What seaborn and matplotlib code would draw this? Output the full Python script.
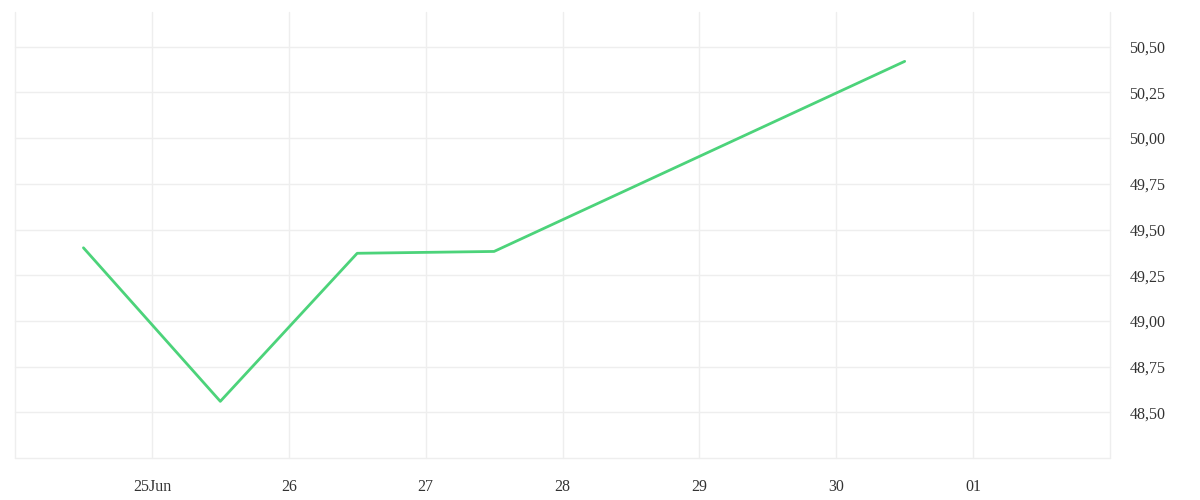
import matplotlib
matplotlib.use("Agg")
import matplotlib.pyplot as plt
import matplotlib.ticker as mticker
import seaborn as sns
import pandas as pd

dates = ["2020-06-24 12:00", "2020-06-25 12:00", "2020-06-26 12:00",
         "2020-06-27 12:00", "2020-06-30 12:00"]
values = [49.40, 48.56, 49.37, 49.38, 50.42]
tick_dates = ["2020-06-24", "2020-06-25", "2020-06-26", "2020-06-27", "2020-06-28",
              "2020-06-29", "2020-06-30", "2020-07-01", "2020-07-02"]
tick_labels = ["", "25Jun", "26", "27", "28", "29", "30", "01", ""]
y_ticks = [48.25, 48.50, 48.75, 49.00, 49.25, 49.50, 49.75, 50.00, 50.25, 50.50]

df = pd.DataFrame({"date": pd.to_datetime(dates), "value": values})

sns.set_style("white")
plt.rcParams["font.family"] = ["Liberation Serif", "DejaVu Serif"]

fig = plt.figure(figsize=(12, 5), dpi=100)
ax = fig.add_axes([15/1200, 1 - 458/500, (1110 - 15)/1200, (458 - 12)/500])

sns.lineplot(data=df, x="date", y="value", ax=ax, color="#4cd37a", linewidth=2)

grid_c = "#eeeeee"
ax.set_xlim(pd.Timestamp(tick_dates[0]), pd.Timestamp(tick_dates[-1]))
ax.set_ylim(48.25, 50.69)
ax.set_xticks(pd.to_datetime(tick_dates))
ax.set_xticklabels(tick_labels)
ax.set_yticks(y_ticks)
ax.yaxis.set_major_formatter(mticker.FuncFormatter(
    lambda v, p: "" if abs(v - 48.25) < 1e-6 else f"{v:.2f}".replace(".", ",")))
ax.yaxis.tick_right()
ax.grid(True, color=grid_c, linewidth=1)
for ln in ax.get_xgridlines() + ax.get_ygridlines():
    ln.set_clip_on(False)
for s in ax.spines.values():
    s.set_visible(False)
ax.tick_params(axis="x", length=7, color=grid_c, width=1, labelsize=11.5,
               labelcolor="#333333", pad=8)
ax.tick_params(axis="y", length=0, labelsize=11.5, labelcolor="#333333", pad=14)
for lbl in ax.get_yticklabels():
    lbl.set_va("top")
    lbl.set_y(lbl.get_position()[1])
ax.set_xlabel("")
ax.set_ylabel("")
ax.yaxis.set_tick_params(which="major")
for t in ax.yaxis.get_major_ticks():
    t.label2.set_verticalalignment("center_baseline")

fig.savefig("out.png", dpi=100)
